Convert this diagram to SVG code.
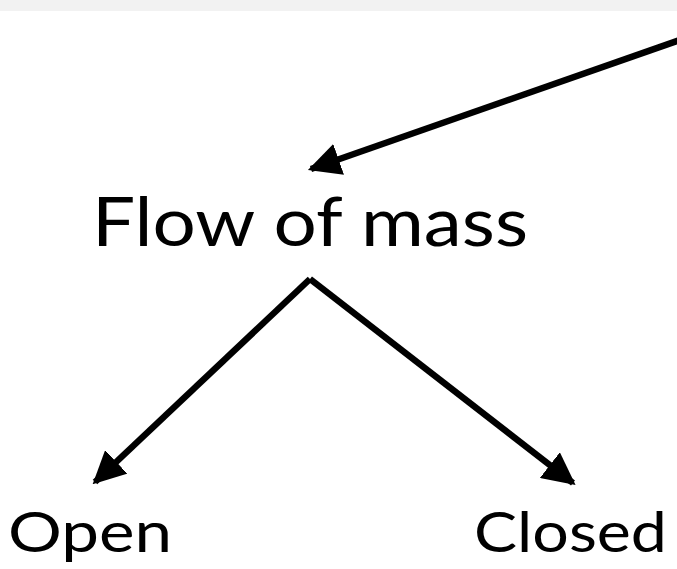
<svg xmlns="http://www.w3.org/2000/svg" width="677" height="569" viewBox="0 0 677 569">
<defs>
<style>
.lbl{font-family:Lato,"Noto Sans",sans-serif;fill:#000}
.ln{stroke:#000;stroke-width:6.5;fill:none}
</style>
<marker id="ah" viewBox="0 0 10 10" refX="9" refY="5" markerWidth="5" markerHeight="5" orient="auto" markerUnits="strokeWidth">
<path d="M0,0 L10,5 L0,10 Z" fill="#000"/>
</marker>
</defs>
<rect x="0" y="0" width="677" height="569" fill="#fff"/>
<rect x="0" y="0" width="677" height="11" fill="#f2f2f2"/>
<g id="edges">
<line class="ln" x1="680" y1="40" x2="311" y2="169" marker-end="url(#ah)"/>
<line class="ln" x1="310" y1="279" x2="95" y2="482" marker-end="url(#ah)"/>
<line class="ln" x1="310" y1="279" x2="573" y2="483" marker-end="url(#ah)"/>
</g>
<g id="flow"><text class="lbl" x="92" y="246" font-size="68" textLength="436" lengthAdjust="spacingAndGlyphs">Flow of mass</text></g>
<g id="open"><text class="lbl" x="8" y="552" font-size="57" textLength="164" lengthAdjust="spacingAndGlyphs">Open</text></g>
<g id="closed"><text class="lbl" x="474" y="552" font-size="57" textLength="193" lengthAdjust="spacingAndGlyphs">Closed</text></g>
</svg>
